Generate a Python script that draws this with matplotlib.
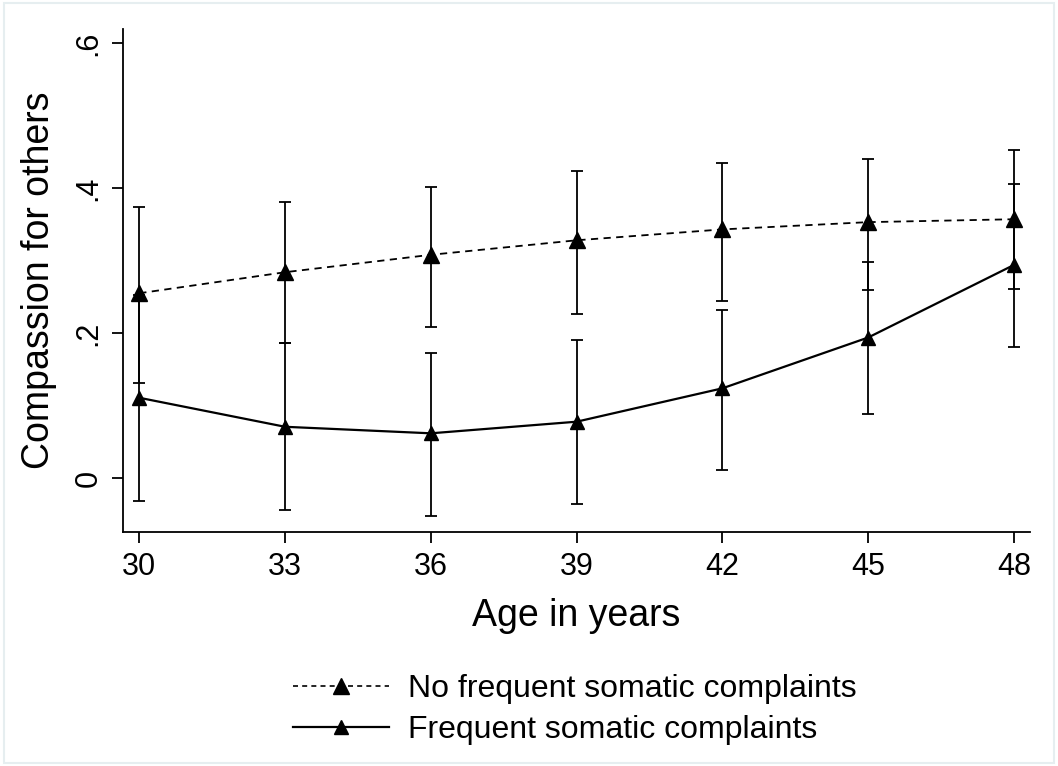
import matplotlib.pyplot as plt
from matplotlib.lines import Line2D
import numpy as np

plt.rcParams['font.family'] = ['Liberation Sans', 'DejaVu Sans']

ages = [30, 33, 36, 39, 42, 45, 48]

no_freq = [0.255, 0.284, 0.308, 0.328, 0.343, 0.353, 0.357]
no_freq_hi = [0.374, 0.381, 0.402, 0.424, 0.435, 0.440, 0.453]
no_freq_lo = [0.131, 0.186, 0.208, 0.227, 0.245, 0.260, 0.261]

freq = [0.111, 0.071, 0.062, 0.078, 0.124, 0.194, 0.294]
freq_hi = [0.253, 0.186, 0.172, 0.191, 0.232, 0.298, 0.406]
freq_lo = [-0.031, -0.044, -0.052, -0.035, 0.012, 0.089, 0.181]

y_ticks = [0, 0.2, 0.4, 0.6]
y_labels = ["0", ".2", ".4", ".6"]

fig = plt.figure(figsize=(10.58, 7.66), dpi=100)
ax = fig.add_axes([0.116, 0.305, 0.8575, 0.657])

for mean, lo, hi in [(no_freq, no_freq_lo, no_freq_hi), (freq, freq_lo, freq_hi)]:
    m = np.array(mean)
    err = [m - np.array(lo), np.array(hi) - m]
    ax.errorbar(ages, m, yerr=err, fmt='none', ecolor='black',
                elinewidth=1.3, capsize=4.5, capthick=1.3)

ax.plot(ages, no_freq, color='black', ls=(0, (4, 3)), lw=1.3,
        marker='^', ms=12, label="No frequent somatic complaints")
ax.plot(ages, freq, color='black', ls='-', lw=1.6,
        marker='^', ms=10, label="Frequent somatic complaints")

ax.set_xlim(29.66, 48.33)
ax.set_ylim(-0.0745, 0.619)
ax.set_xticks(ages)
ax.set_yticks(y_ticks)
ax.set_yticklabels(y_labels, rotation=90, va='center')
ax.tick_params(axis='both', direction='out', length=8, width=1.3,
               labelsize=22, colors='black', pad=6)
for s in ['top', 'right']:
    ax.spines[s].set_visible(False)
for s in ['left', 'bottom']:
    ax.spines[s].set_linewidth(1.3)

ax.set_xlabel("Age in years", fontsize=27, labelpad=12)
ax.set_ylabel("Compassion for others", fontsize=27, labelpad=12)

handles = [
    Line2D([], [], color='black', ls=(0, (3, 2.5)), lw=1.2, marker='^', ms=12),
    Line2D([], [], color='black', ls='-', lw=1.6, marker='^', ms=10),
]
fig.legend(handles, ["No frequent somatic complaints", "Frequent somatic complaints"],
           loc='center', bbox_to_anchor=(0.543, 0.074), frameon=False,
           fontsize=23, handlelength=3.0, handletextpad=0.6, labelspacing=0.35,
           markerscale=1.0)

fig.patches.append(plt.Rectangle((0.004, 0.004), 0.992, 0.992, transform=fig.transFigure,
                                 fill=False, edgecolor='#e6eef0', lw=1.5))

fig.savefig("out.png", dpi=100)
